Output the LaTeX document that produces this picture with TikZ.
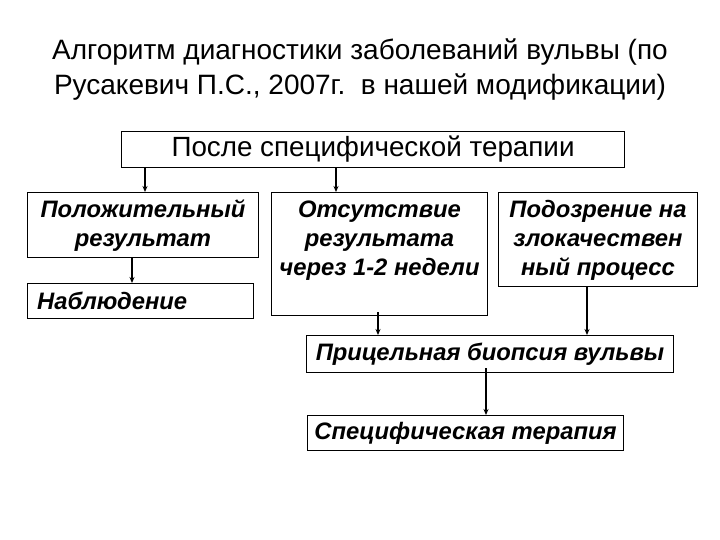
\documentclass[tikz,border=0pt]{standalone}
\usepackage{fontspec}
\setmainfont{Liberation Sans}
\usetikzlibrary{arrows.meta}
\begin{document}
\begin{tikzpicture}[x=1pt,y=-1pt,
  box/.style={draw=black, line width=1pt, inner sep=0pt, anchor=north west},
  btxt/.style={font=\fontsize{23.8}{29}\selectfont\bfseries\itshape, align=center, inner sep=0pt},
  arr/.style={line width=1.3pt, -{Stealth[length=6pt,width=5pt]}}]
\useasboundingbox (0,0) rectangle (720,540);
\node[font=\fontsize{28}{35}\selectfont, align=center] (title) at (360,70)
  {Алгоритм диагностики заболеваний вульвы (по\\Русакевич П.С., 2007г.\ \ в нашей модификации)};
\node[box, minimum width=503pt, minimum height=36pt] (top) at (121,131) {};
\node[font=\fontsize{27.8}{30}\selectfont, inner sep=0pt] (toptxt) at (top.center) {После специфической терапии};
\node[box, minimum width=231pt, minimum height=65pt] (pol) at (27,192) {};
\node[btxt] (poltxt) at ([yshift=-1pt]pol.center) {Положительный\\результат};
\node[box, minimum width=216pt, minimum height=123pt] (ots) at (271,192) {};
\node[btxt, anchor=north] (otstxt) at ([yshift=-9pt]ots.north) {Отсутствие\\результата\\через 1-2 недели};
\node[box, minimum width=199pt, minimum height=94pt] (pod) at (498,192) {};
\node[btxt] (podtxt) at ([yshift=-1pt]pod.center) {Подозрение на\\злокачествен\\ный процесс};
\node[box, minimum width=226pt, minimum height=35pt] (nab) at (27,283) {};
\node[btxt, anchor=west] (nabtxt) at ([xshift=10pt]nab.west) {Наблюдение};
\node[box, minimum width=367pt, minimum height=37pt] (bio) at (306,335) {};
\node[btxt] (biotxt) at (bio.center) {Прицельная биопсия вульвы};
\node[box, minimum width=316pt, minimum height=35pt] (spec) at (307,415) {};
\node[btxt] (spectxt) at (spec.center) {Специфическая терапия};
\coordinate (a1) at (145,0);
\coordinate (a2) at (336,0);
\coordinate (a3) at (132,0);
\coordinate (a4) at (378,0);
\coordinate (a5) at (587,0);
\coordinate (a6) at (486,0);
\draw[arr] (top.south -| a1) -- (pol.north -| a1);
\draw[arr] (top.south -| a2) -- (ots.north -| a2);
\draw[arr] (pol.south -| a3) -- (nab.north -| a3);
\draw[arr] ([yshift=4pt]ots.south -| a4) -- (bio.north -| a4);
\draw[arr] (pod.south -| a5) -- (bio.north -| a5);
\draw[arr] ([yshift=5pt]bio.south -| a6) -- (spec.north -| a6);
\end{tikzpicture}
\end{document}
